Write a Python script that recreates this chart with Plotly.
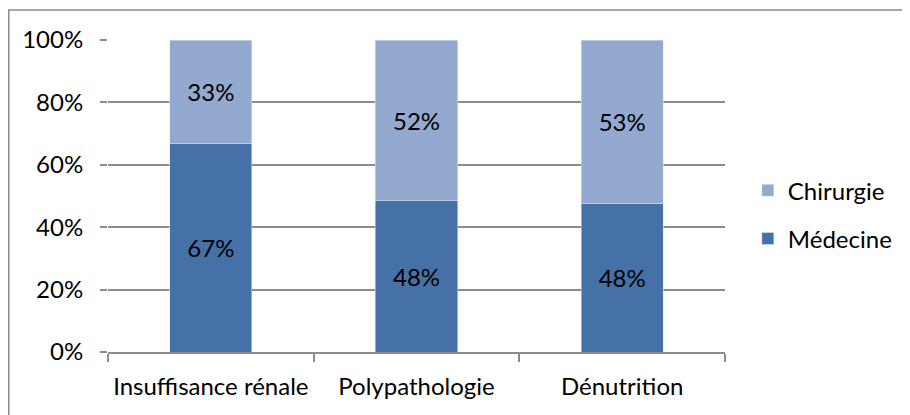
import plotly.graph_objects as go

categories = ["Insuffisance rénale", "Polypathologie", "Dénutrition"]
medecine = [66.7, 48.4, 47.5]
chirurgie = [33.3, 51.6, 52.5]
medecine_labels = ["67%", "48%", "48%"]
chirurgie_labels = ["33%", "52%", "53%"]
y_ticks = [0, 20, 40, 60, 80, 100]
y_tick_labels = ["0%", "20%", "40%", "60%", "80%", "100%"]

FONT = "Lato"
FS = 24
DARK = "#4571A7"
LIGHT = "#93A9CF"
GRID = "#8C8C8C"

fig = go.Figure()
fig.add_trace(go.Bar(
    x=categories, y=medecine, name="Médecine", marker_color=DARK,
    text=medecine_labels, textposition="inside", insidetextanchor="middle",
    textfont=dict(color="black", size=FS, family=FONT), textangle=0,
    legendgroup="m", legendrank=2, hoverinfo="skip"))
fig.add_trace(go.Bar(
    x=categories, y=chirurgie, name="Chirurgie", marker_color=LIGHT,
    text=chirurgie_labels, textposition="inside", insidetextanchor="middle",
    textfont=dict(color="black", size=FS, family=FONT), textangle=0,
    legendgroup="c", legendrank=1, hoverinfo="skip"))

# page body adds an 8px offset; figure sized so the plot lands at x 108-725, y 40-352
fig.update_layout(
    barmode="stack", bargap=0.6,
    width=902, height=407,
    margin=dict(l=100, r=185, t=32, b=63, autoexpand=False),
    paper_bgcolor="white", plot_bgcolor="white",
    font=dict(family=FONT, size=FS, color="black"),
    uniformtext=dict(minsize=FS, mode="show"),
    legend=dict(x=1.037, y=0.44, xanchor="left", yanchor="middle",
                traceorder="grouped", tracegroupgap=14,
                font=dict(size=FS, family=FONT), itemwidth=30),
    xaxis=dict(showgrid=False, showline=True, linecolor=GRID, linewidth=1.5,
               ticks="outside", ticklen=8, tickcolor=GRID, tickwidth=1.5,
               tickson="boundaries", ticklabelstandoff=12, tickangle=0,
               automargin=False),
    yaxis=dict(range=[0, 100], tickvals=y_ticks, ticktext=y_tick_labels,
               showgrid=True, gridcolor=GRID, gridwidth=1.5,
               ticks="outside", ticklen=7, tickcolor=GRID, tickwidth=1.5,
               ticklabelstandoff=12, showline=False, zeroline=False,
               automargin=False),
    shapes=[dict(type="rect", xref="paper", yref="paper",
                 x0=-0.1608, x1=1.5, y0=-0.5, y1=1 + 30 / 312,
                 line=dict(color="#8A8A8A", width=1.5), layer="below")],
)

fig.write_html("out.html")
